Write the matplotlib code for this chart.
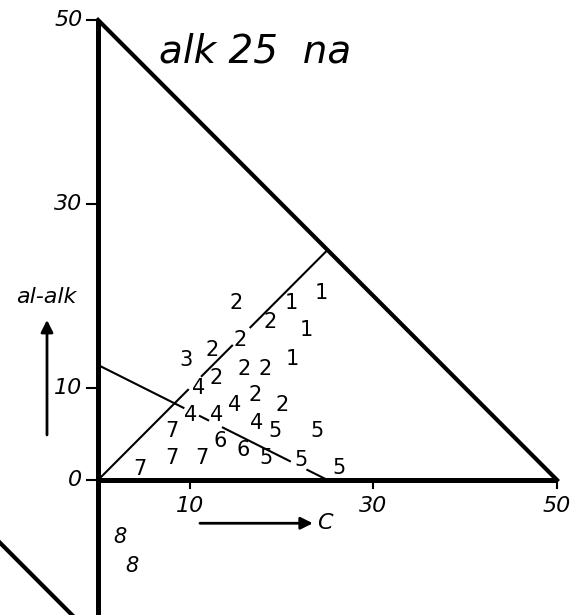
import numpy as np
import matplotlib
matplotlib.use("Agg")
from matplotlib import pyplot as plt

# group numbers: C values and al-alk values for each group
g1_c = [21.1, 24.3, 22.7, 21.2]
g1_y = [19.2, 20.3, 16.3, 13.2]
g2_c = [15.0, 18.7, 15.5, 12.4, 15.9, 18.2, 12.9, 17.1, 20.1]
g2_y = [19.2, 17.2, 15.2, 14.1, 12.1, 12.1, 11.1, 9.2, 8.2]
g3_c = [9.6]
g3_y = [13.0]
g4_c = [11.0, 14.9, 10.1, 12.9, 17.3]
g4_y = [10.0, 8.2, 7.1, 7.1, 6.2]
g5_c = [19.3, 23.8, 18.3, 22.1, 26.2]
g5_y = [5.3, 5.3, 2.4, 2.2, 1.3]
g6_c = [13.3, 15.8]
g6_y = [4.2, 3.3]
g7_c = [8.0, 8.0, 11.3, 4.6]
g7_y = [5.3, 2.4, 2.4, 1.2]
g8_c = [2.4, 3.7]
g8_y = [-6.2, -9.3]

groups = {"1": (g1_c, g1_y), "2": (g2_c, g2_y), "3": (g3_c, g3_y),
          "4": (g4_c, g4_y), "5": (g5_c, g5_y), "6": (g6_c, g6_y),
          "7": (g7_c, g7_y), "8": (g8_c, g8_y)}

x_ticks = [10, 30, 50]
y_ticks = [0, 10, 30, 50]

# line alk=25: from origin to (25,25), drawn in pieces like the print
diag_pieces = [(0.0, 9.8), (11.3, 14.6), (16.6, 25.0)]
# second line from (0,12.5) to (25,0)
line2_y0 = 12.5
line2_x1 = 25.0
line2_pieces = [(0.0, 9.3), (11.1, 12.0), (13.6, 20.9), (22.8, 25.0)]

font = ["DejaVu Sans"]

fig = plt.figure(figsize=(5.74, 6.15), dpi=100)
ax = fig.add_axes([0, 0, 1, 1])
ax.set_xlim(-10.68, 51.85)
ax.set_ylim(-14.67, 52.17)
ax.axis("off")

# triangle frame
ax.plot([0, 0], [50, -16], color="black", lw=3.6, solid_capstyle="butt")
ax.plot([0, 50], [0, 0], color="black", lw=3.6, solid_capstyle="butt")
ax.plot([0, 50], [50, 0], color="black", lw=3.0)

# neighbour diagram edge in the lower left
ax.plot([-12, -1], [-5.5, -16.5], color="black", lw=3.0)

# ticks
for t in y_ticks:
    ax.plot([-1.2, 0], [t, t], color="black", lw=1.5)
    ax.text(-1.7, t, str(t), ha="right", va="center", fontsize=16,
            style="italic", family=font)
for t in x_ticks:
    ax.plot([t, t], [0, -0.9], color="black", lw=1.5)
    ax.text(t, -2.8, str(t), ha="center", va="center", fontsize=16,
            style="italic", family=font)

# inner lines
for a, b in diag_pieces:
    ax.plot([a, b], [a, b], color="black", lw=1.5)
for a, b in line2_pieces:
    ya = line2_y0 * (1 - a / line2_x1)
    yb = line2_y0 * (1 - b / line2_x1)
    ax.plot([a, b], [ya, yb], color="black", lw=1.5)

# group numbers (the 8s below the axis are printed in italic)
for lab in groups:
    cs, ys = groups[lab]
    st = "italic" if lab == "8" else "normal"
    for cx, cy in zip(cs, ys):
        ax.text(cx, cy, lab, ha="center", va="center", fontsize=15,
                style=st, family=font)

# title
ax.text(6.6, 45.4, "alk 25  na", ha="left", va="baseline", fontsize=28,
        style="italic", family=font)

# axis labels with arrows
ax.annotate("", xy=(-5.56, 17.4), xytext=(-5.56, 4.9),
            arrowprops=dict(arrowstyle="-|>", lw=2, color="black",
                            mutation_scale=18, shrinkA=0, shrinkB=0))
ax.text(-5.66, 19.2, "al-alk", ha="center", va="baseline", fontsize=16,
        style="italic", family=font)
ax.annotate("", xy=(23.4, -4.7), xytext=(11.1, -4.7),
            arrowprops=dict(arrowstyle="-|>", lw=2, color="black",
                            mutation_scale=18, shrinkA=0, shrinkB=0))
ax.text(23.9, -4.7, "C", ha="left", va="center", fontsize=16,
        style="italic", family=font)

fig.savefig("out.png", dpi=100)
